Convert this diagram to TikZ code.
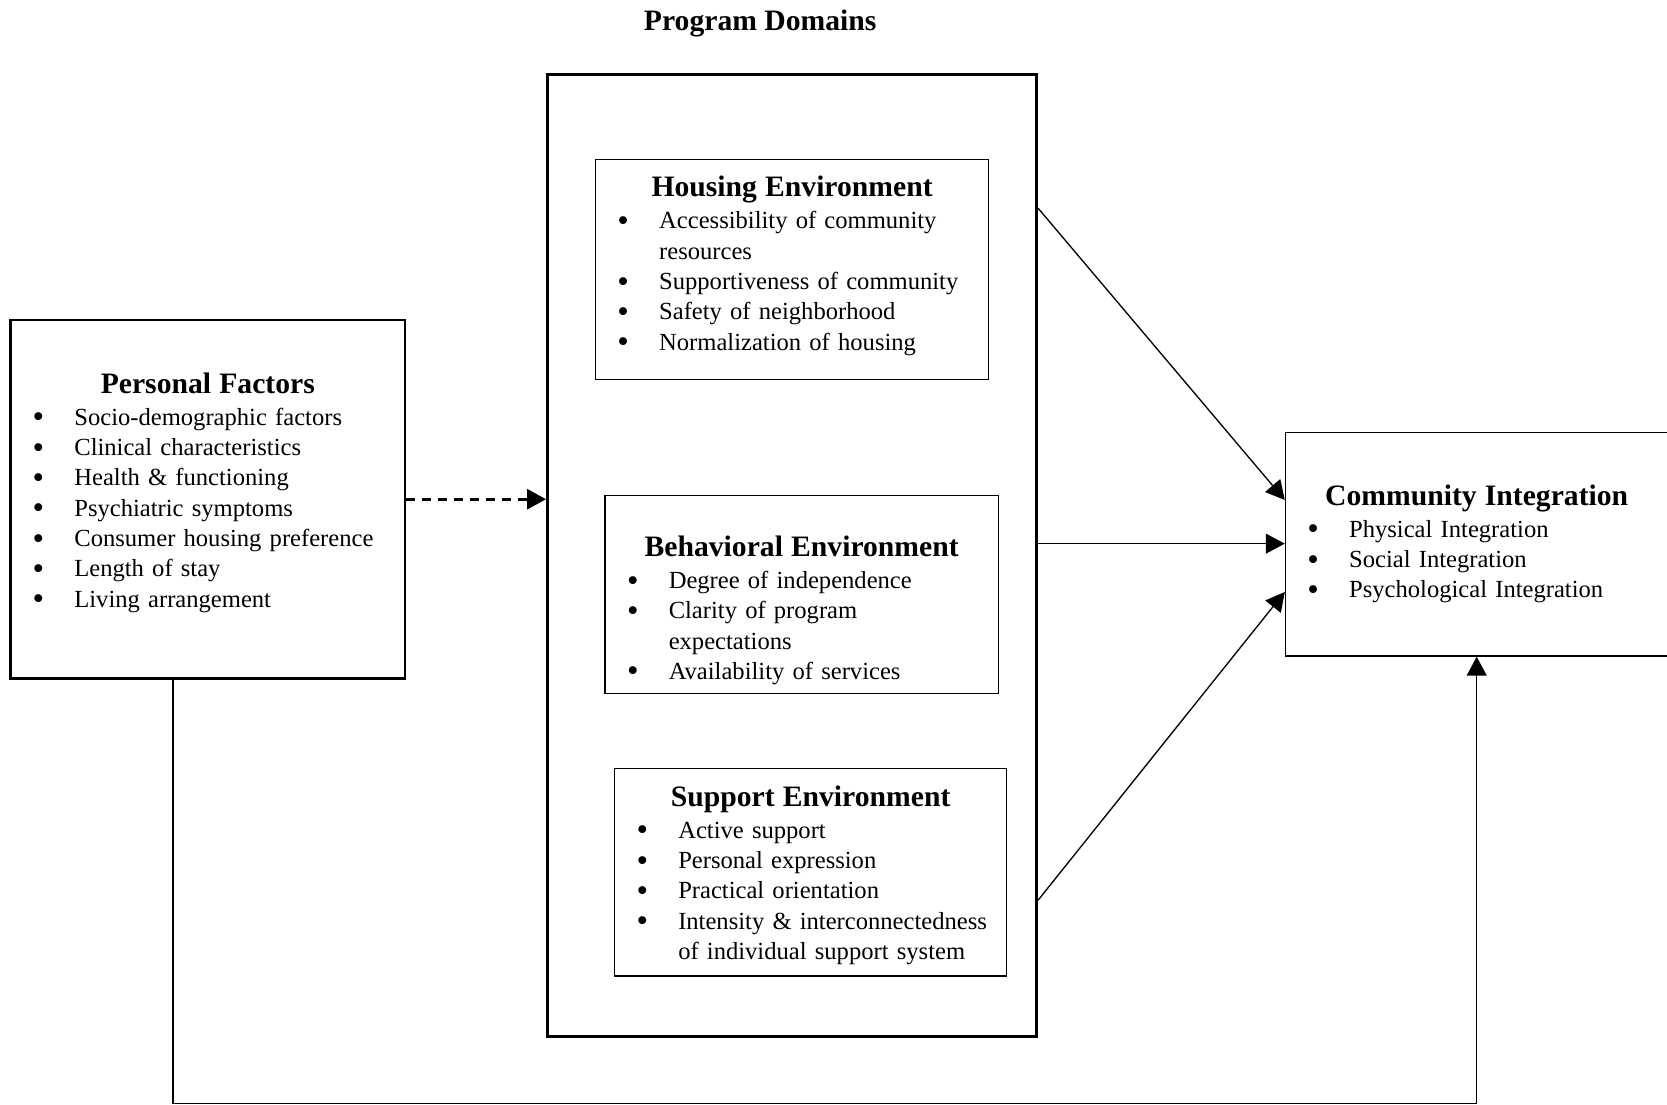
\documentclass[tikz,border=0pt]{standalone}
\usepackage{fontspec}
\setmainfont{Liberation Serif}
\usetikzlibrary{positioning}
\usetikzlibrary{arrows.meta}
\usetikzlibrary{calc}
% heading line and bullet line inside a box
\newcommand{\hd}[1]{{\centering\fontsize{13.5}{16.4}\selectfont\bfseries #1\par}\vskip 0.8pt}
\newcommand{\itm}[1]{\par\hangindent=29pt\hangafter=1\noindent\hspace*{10pt}\makebox[19pt][l]{\raisebox{-1.2pt}{\fontsize{15}{15}\selectfont\textbullet}}#1}
\tikzset {
  % framed boxes
  outerbox/.style = {draw, line width=1.4pt, inner sep=0pt},
  factorbox/.style = {draw, line width=1.15pt, inner sep=0pt},
  envbox/.style = {draw, line width=0.6pt, inner sep=0pt},
  % text block inside a box
  content/.style = {inner sep=0pt, anchor=north, text width=#1, align=left},
  % connectors
  conn/.style = {line width=0.6pt, -{Triangle[length=8.6pt,width=9pt]}},
  dashconn/.style = {line width=1.5pt, dash pattern=on 4.1pt off 3.2pt, -{Triangle[length=8.6pt,width=9pt]}},
}
\begin{document}
\begin{tikzpicture}[x=0.016cm, y=-0.016cm, font=\fontsize{11.2}{13.8}\selectfont]
  \useasboundingbox (0,0) rectangle (1667,1104);

  \node (title) at (760.2,23.2) {\fontsize{13.5}{16}\selectfont\bfseries Program Domains};

  \node[outerbox, minimum width=7.826cm, minimum height=15.395cm] (prog) at (792.05,555.5) {};
  \node[envbox, minimum width=6.294cm, minimum height=3.522cm] (housing) at (792.1,269.55) {};
  \node[envbox, minimum width=6.293cm, minimum height=3.165cm] (behav) at (801.65,594.3) {};
  \node[envbox, minimum width=6.277cm, minimum height=3.317cm] (support) at (810.65,872.35) {};
  \node[factorbox, minimum width=6.31cm, minimum height=5.733cm] (personal) at (207.8,499.2) {};
  \node[envbox, minimum width=6.122cm, minimum height=3.573cm] (comm) at (1476.7,544.35) {};

  \node[content=6.294cm] (housingtxt) at ($(housing.north)+(0,17)$) {%
    \hd{Housing Environment}
    \itm{Accessibility of community\newline resources}
    \itm{Supportiveness of community}
    \itm{Safety of neighborhood}
    \itm{Normalization of housing}\par};
  \node[content=6.293cm] (behavtxt) at ($(behav.north)+(0,40.6)$) {%
    \hd{Behavioral Environment}
    \itm{Degree of independence}
    \itm{Clarity of program\newline expectations}
    \itm{Availability of services}\par};
  \node[content=6.277cm] (supporttxt) at ($(support.north)+(0,17.1)$) {%
    \hd{Support Environment}
    \itm{Active support}
    \itm{Personal expression}
    \itm{Practical orientation}
    \itm{Intensity \& interconnectedness\newline of individual support system}\par};
  \node[content=6.31cm] (personaltxt) at ($(personal.north)+(0,53.3)$) {%
    \hd{Personal Factors}
    \itm{Socio-demographic factors}
    \itm{Clinical characteristics}
    \itm{Health \& functioning}
    \itm{Psychiatric symptoms}
    \itm{Consumer housing preference}
    \itm{Length of stay}
    \itm{Living arrangement}\par};
  \node[content=6.122cm] (commtxt) at ($(comm.north)+(0,52.2)$) {%
    \hd{Community Integration}
    \itm{Physical Integration}
    \itm{Social Integration}
    \itm{Psychological Integration}\par};

  \draw[dashconn] (personal.east) -- (personal.east -| prog.west);

  \coordinate (h1) at ($(prog.north east)+(0,135.1)$);
  \coordinate (h2) at ($(prog.north east)+(0,470.6)$);
  \coordinate (h3) at ($(prog.north east)+(0,827.2)$);
  \coordinate (c1) at ($(comm.west)+(0,-44.4)$);
  \coordinate (c3) at ($(comm.west)+(0,47.6)$);
  \draw[conn] (h1) -- (c1);
  \draw[conn] (h2) -- (h2 -| comm.west);
  \draw[conn] (h3) -- (c3);

  \coordinate (pf) at ($(personal.south)+(-34.8,0)$);
  \draw[conn] (pf) -- ++(0,424.2) -| (comm.south);
\end{tikzpicture}
\end{document}
